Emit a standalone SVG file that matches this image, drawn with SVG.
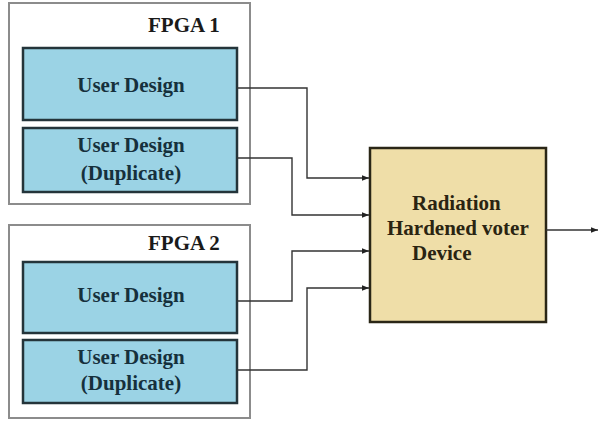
<svg xmlns="http://www.w3.org/2000/svg" width="600" height="421" viewBox="0 0 600 421">
  <style>
    .fpga { fill: #ffffff; stroke: #8c8c8c; stroke-width: 2; }
    .design { fill: #9bd3e5; stroke: #24343a; stroke-width: 2.5; }
    .voter { fill: #efdea8; stroke: #2a2616; stroke-width: 2.5; }
    .label { font-family: "Liberation Serif", "Times New Roman", serif; font-weight: bold; font-size: 21px; }
    .fpga-label { fill: #1a1a1a; }
    .design-label { fill: #16303c; text-anchor: middle; }
    .voter-label { fill: #2a2412; }
    .wire { fill: none; stroke: #333333; stroke-width: 1.4; }
  </style>
  <defs>
    <marker id="arrow" viewBox="0 0 10 10" refX="10" refY="5" markerWidth="9" markerHeight="7" markerUnits="userSpaceOnUse" orient="auto">
      <path d="M0,1 L10,5 L0,9 Z" fill="#222222"/>
    </marker>
  </defs>

  <rect width="600" height="421" fill="#ffffff"/>

  <!-- FPGA 1 -->
  <g id="fpga1">
    <rect class="fpga" x="9" y="3" width="241" height="201"/>
    <text class="label fpga-label" x="148" y="32">FPGA 1</text>
  </g>
  <g id="fpga1-design">
    <rect class="design" x="23" y="48" width="214" height="72"/>
    <text class="label design-label" x="131" y="92">User Design</text>
  </g>
  <g id="fpga1-duplicate">
    <rect class="design" x="23" y="128" width="214" height="64"/>
    <text class="label design-label" x="131" y="152">User Design</text>
    <text class="label design-label" x="131" y="180">(Duplicate)</text>
  </g>

  <!-- FPGA 2 -->
  <g id="fpga2">
    <rect class="fpga" x="9" y="225" width="241" height="193"/>
    <text class="label fpga-label" x="148" y="250">FPGA 2</text>
  </g>
  <g id="fpga2-design">
    <rect class="design" x="23" y="262" width="214" height="71"/>
    <text class="label design-label" x="131" y="302">User Design</text>
  </g>
  <g id="fpga2-duplicate">
    <rect class="design" x="23" y="340" width="214" height="63"/>
    <text class="label design-label" x="131" y="364">User Design</text>
    <text class="label design-label" x="131" y="390">(Duplicate)</text>
  </g>

  <!-- Voter -->
  <g id="voter">
    <rect class="voter" x="370" y="148" width="176" height="174"/>
    <text class="label voter-label" x="412" y="210">Radiation</text>
    <text class="label voter-label" x="387" y="235">Hardened voter</text>
    <text class="label voter-label" x="412" y="260">Device</text>
  </g>

  <!-- Connectors -->
  <g id="connectors">
    <polyline class="wire" points="237,88 307,88 307,178 369,178" marker-end="url(#arrow)"/>
    <polyline class="wire" points="237,158 292,158 292,215 369,215" marker-end="url(#arrow)"/>
    <polyline class="wire" points="237,301 292,301 292,251 369,251" marker-end="url(#arrow)"/>
    <polyline class="wire" points="237,370 307,370 307,288 369,288" marker-end="url(#arrow)"/>
    <line class="wire" x1="546" y1="230" x2="598" y2="230" marker-end="url(#arrow)"/>
  </g>
</svg>
